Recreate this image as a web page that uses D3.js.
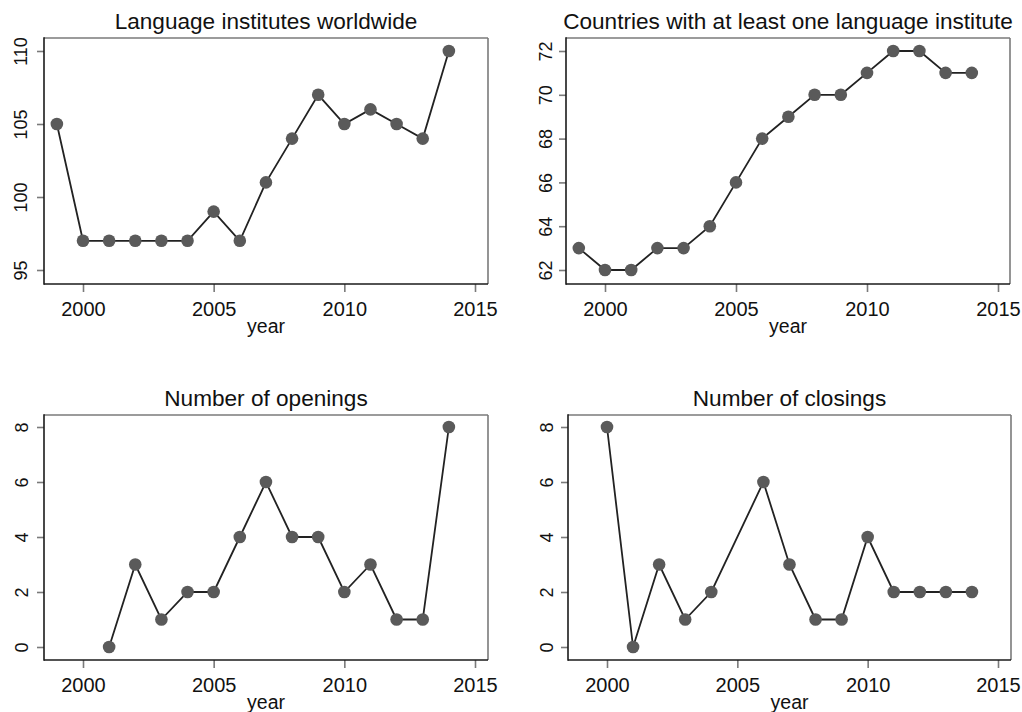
<!DOCTYPE html>
<html>
<head>
<meta charset="utf-8">
<script src="https://cdn.jsdelivr.net/npm/d3@7"></script>
<style>
  body { margin: 0; background: #fff; }
  svg { display: block; font-family: "Liberation Sans", Arial, sans-serif; }
  .title { font-size: 22.6px; fill: #111; }
  .xlab { font-size: 19.5px; fill: #111; }
  .tick text { fill: #111; }
</style>
</head>
<body>
<svg id="chart" width="1022" height="712"></svg>
<script>
// data
var years = [1999, 2000, 2001, 2002, 2003, 2004, 2005, 2006, 2007, 2008, 2009, 2010, 2011, 2012, 2013, 2014];
var institutes = [105, 97, 97, 97, 97, 97, 99, 97, 101, 104, 107, 105, 106, 105, 104, 110];
var countries = [63, 62, 62, 63, 63, 64, 66, 68, 69, 70, 70, 71, 72, 72, 71, 71];
var openings = [null, null, 0, 3, 1, 2, 2, 4, 6, 4, 4, 2, 3, 1, 1, 8];
var closings = [null, 8, 0, 3, 1, 2, null, 6, 3, 1, 1, 4, 2, 2, 2, 2];
var titles = ["Language institutes worldwide", "Countries with at least one language institute", "Number of openings", "Number of closings"];
var xTicks = [2000, 2005, 2010, 2015];
var yTicksInst = [95, 100, 105, 110];
var yTicksCountries = [62, 64, 66, 68, 70, 72];
var yTicksCount = [0, 2, 4, 6, 8];

var svg = d3.select("#chart");

// box = plot region, xr = pixel of 2000/2015, yr = pixel of first/last y tick
var panels = [
  {title: titles[0], values: institutes, yTicks: yTicksInst, box: [44, 38, 488, 284], xr: [83, 475], yr: [270, 51], lab: 17},
  {title: titles[1], values: countries, yTicks: yTicksCountries, box: [566, 38, 1010, 284], xr: [605, 998], yr: [270, 51], lab: 14},
  {title: titles[2], values: openings, yTicks: yTicksCount, box: [44, 415, 488, 660], xr: [83, 475], yr: [647, 427], lab: 16},
  {title: titles[3], values: closings, yTicks: yTicksCount, box: [568, 415, 1011, 660], xr: [607, 998], yr: [647, 427], lab: 15}
];

panels.forEach(function (p) {
  var b = p.box;
  var x = d3.scaleLinear().domain([2000, 2015]).range(p.xr);
  var yt = p.yTicks;
  var y = d3.scaleLinear().domain([yt[0], yt[yt.length - 1]]).range(p.yr);

  var g = svg.append("g");

  // frame: top & right grey, left & bottom dark
  g.append("line").attr("x1", b[0]).attr("x2", b[2]).attr("y1", b[1]).attr("y2", b[1])
    .attr("stroke", "#7a7a7a").attr("stroke-width", 1.6);
  g.append("line").attr("x1", b[2]).attr("x2", b[2]).attr("y1", b[1]).attr("y2", b[3])
    .attr("stroke", "#7a7a7a").attr("stroke-width", 1.6);

  var xAxis = g.append("g")
    .attr("transform", "translate(0," + b[3] + ")")
    .call(d3.axisBottom(x).tickValues(xTicks).tickFormat(d3.format("d")).tickSize(8).tickSizeOuter(0).tickPadding(10));
  xAxis.select(".domain").remove();
  xAxis.selectAll(".tick line").attr("stroke", "#7a7a7a").attr("stroke-width", 1.6);
  xAxis.selectAll(".tick text").style("font-size", "20px").style("font-family", "Liberation Sans, Arial, sans-serif");

  var yAxis = g.append("g")
    .attr("transform", "translate(" + b[0] + ",0)")
    .call(d3.axisLeft(y).tickValues(yt).tickSize(7).tickSizeOuter(0));
  yAxis.select(".domain").remove();
  yAxis.selectAll(".tick line").attr("stroke", "#7a7a7a").attr("stroke-width", 1.6);
  yAxis.selectAll(".tick text")
    .attr("x", null).attr("dy", null)
    .attr("text-anchor", "middle")
    .attr("transform", "translate(" + (-p.lab) + ",0) rotate(-90)")
    .style("font-size", "18px").style("font-family", "Liberation Sans, Arial, sans-serif");

  g.append("line").attr("x1", b[0]).attr("x2", b[0]).attr("y1", b[1] - 0.8).attr("y2", b[3] + 0.8)
    .attr("stroke", "#1a1a1a").attr("stroke-width", 1.6);
  g.append("line").attr("x1", b[0]).attr("x2", b[2]).attr("y1", b[3]).attr("y2", b[3])
    .attr("stroke", "#1a1a1a").attr("stroke-width", 1.6);

  // title and x label
  g.append("text").attr("class", "title")
    .attr("x", (b[0] + b[2]) / 2).attr("y", b[1] - 9)
    .attr("text-anchor", "middle").text(p.title);
  g.append("text").attr("class", "xlab")
    .attr("x", (b[0] + b[2]) / 2).attr("y", b[3] + 49)
    .attr("text-anchor", "middle").text("year");

  var pts = years.map(function (yr, i) { return {year: yr, v: p.values[i]}; })
    .filter(function (d) { return d.v != null; });

  var line = d3.line().x(function (d) { return x(d.year); }).y(function (d) { return y(d.v); });
  g.append("path").datum(pts)
    .attr("fill", "none").attr("stroke", "#222").attr("stroke-width", 1.8)
    .attr("d", line);

  g.selectAll("circle").data(pts).enter().append("circle")
    .attr("cx", function (d) { return x(d.year); })
    .attr("cy", function (d) { return y(d.v); })
    .attr("r", 6.3)
    .attr("fill", "#5a5a5a");
});
</script>
</body>
</html>
